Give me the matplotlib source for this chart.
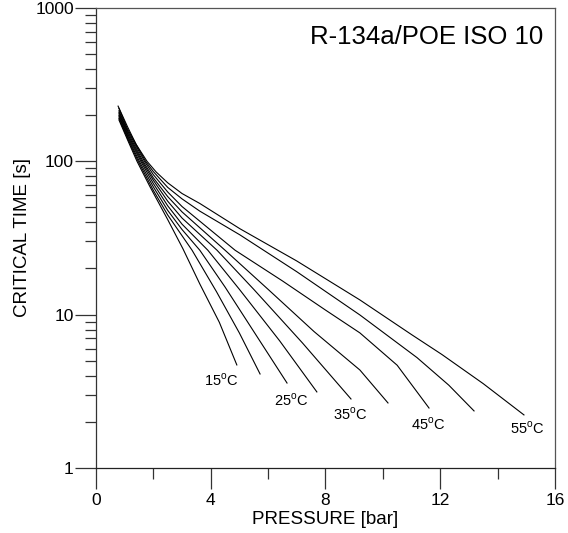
import numpy as np
import matplotlib
matplotlib.use('Agg')
import matplotlib.pyplot as plt
from matplotlib.ticker import FixedLocator, LogLocator, NullFormatter

plt.rcParams['font.family'] = ['Liberation Sans', 'DejaVu Sans']
plt.rcParams['mathtext.fontset'] = 'custom'
plt.rcParams['mathtext.rm'] = 'Liberation Sans'

# oil temperatures [C]
temps = [15, 20, 25, 30, 35, 40, 45, 50, 55]

# pressure [bar] and log10(critical time [s]), one pair per curve
p_15 = [0.8, 1.1, 1.43, 1.88, 2.5, 3.03, 3.62, 4.3, 4.91]
lt_15 = [2.27, 2.14, 2.0, 1.835, 1.62, 1.43, 1.20, 0.95, 0.672]
p_20 = [0.8, 1.1, 1.47, 2.0, 2.5, 3.35, 4.2, 5.0, 5.72]
lt_20 = [2.28, 2.15, 2.0, 1.81, 1.65, 1.42, 1.15, 0.88, 0.613]
p_25 = [0.8, 1.1, 1.51, 2.0, 2.5, 3.0, 3.62, 4.5, 5.5, 6.66]
lt_25 = [2.29, 2.16, 2.0, 1.833, 1.68, 1.555, 1.42, 1.18, 0.89, 0.554]
p_30 = [0.8, 1.1, 1.56, 2.0, 2.5, 3.0, 3.90, 5.0, 6.4, 7.7]
lt_30 = [2.30, 2.17, 2.0, 1.855, 1.71, 1.59, 1.42, 1.165, 0.83, 0.496]
p_35 = [0.8, 1.1, 1.60, 2.0, 2.5, 3.0, 4.22, 5.5, 7.2, 8.89]
lt_35 = [2.31, 2.18, 2.0, 1.876, 1.74, 1.63, 1.42, 1.165, 0.815, 0.45]
p_40 = [0.8, 1.1, 1.64, 2.0, 2.5, 3.0, 4.50, 6.0, 7.6, 9.2, 10.18]
lt_40 = [2.32, 2.19, 2.0, 1.892, 1.77, 1.67, 1.42, 1.165, 0.89, 0.639, 0.424]
p_45 = [0.8, 1.1, 1.69, 2.0, 2.5, 3.0, 4.85, 6.5, 8.0, 9.2, 10.5, 11.61]
lt_45 = [2.33, 2.20, 2.0, 1.913, 1.80, 1.705, 1.42, 1.22, 1.03, 0.881, 0.67, 0.391]
p_50 = [0.8, 1.1, 1.73, 2.0, 2.5, 3.0, 3.62, 5.02, 7.0, 9.2, 11.19, 12.3, 13.18]
lt_50 = [2.345, 2.21, 2.0, 1.933, 1.83, 1.755, 1.675, 1.52, 1.28, 0.998, 0.72, 0.54, 0.372]
p_55 = [0.77, 1.1, 1.4, 1.78, 2.1, 2.5, 3.0, 3.62, 5.02, 7.0, 9.2, 11.0, 12.06, 13.5, 14.92]
lt_55 = [2.36, 2.225, 2.11, 2.0, 1.93, 1.86, 1.79, 1.725, 1.56, 1.35, 1.096, 0.87, 0.74, 0.55, 0.346]

pressures = [p_15, p_20, p_25, p_30, p_35, p_40, p_45, p_50, p_55]
log_times = [lt_15, lt_20, lt_25, lt_30, lt_35, lt_40, lt_45, lt_50, lt_55]

# curve labels (every other temperature)
label_temps = [15, 25, 35, 45, 55]
label_p = [4.36, 6.80, 8.85, 11.57, 15.02]
label_t = [3.75, 2.78, 2.25, 1.94, 1.82]

fig = plt.figure(figsize=(5.68, 5.33), dpi=100)
ax = fig.add_axes([0.169, 0.122, 0.808, 0.863])

for p, lt in zip(pressures, log_times):
    ax.plot(p, 10 ** np.array(lt), color='black', lw=0.8)

for T, x, y in zip(label_temps, label_p, label_t):
    ax.text(x, y, f'{T}$^{{\\rm o}}$C', ha='center', va='center', fontsize=10.5)

ax.text(0.974, 0.937, 'R-134a/POE ISO 10', transform=ax.transAxes,
        ha='right', va='center', fontsize=18.5)

ax.set_yscale('log')
ax.set_xlim(0, 16)
ax.set_ylim(1, 1000)

ax.xaxis.set_major_locator(FixedLocator([0, 4, 8, 12, 16]))
ax.xaxis.set_minor_locator(FixedLocator([2, 6, 10, 14]))
ax.yaxis.set_major_locator(FixedLocator([1, 10, 100, 1000]))
ax.set_yticklabels(['1', '10', '100', '1000'])
ax.yaxis.set_minor_locator(LogLocator(base=10, subs=np.arange(2, 10)))
ax.yaxis.set_minor_formatter(NullFormatter())

ax.tick_params(which='major', direction='out', length=15, width=0.9,
               labelsize=12.5, color='#333333')
ax.tick_params(which='minor', direction='out', length=8, width=0.9,
               color='#333333')
ax.tick_params(axis='x', which='major', pad=3)
ax.tick_params(axis='y', which='major', pad=1)

for s in ax.spines.values():
    s.set_linewidth(0.9)
    s.set_color('#555555')
ax.spines['left'].set_color('#333333')
ax.spines['bottom'].set_color('#222222')

ax.set_xlabel('PRESSURE [bar]', fontsize=13.5, labelpad=2)
ax.set_ylabel('CRITICAL TIME [s]', fontsize=13.5, labelpad=3)

fig.savefig('out.png', dpi=100)
